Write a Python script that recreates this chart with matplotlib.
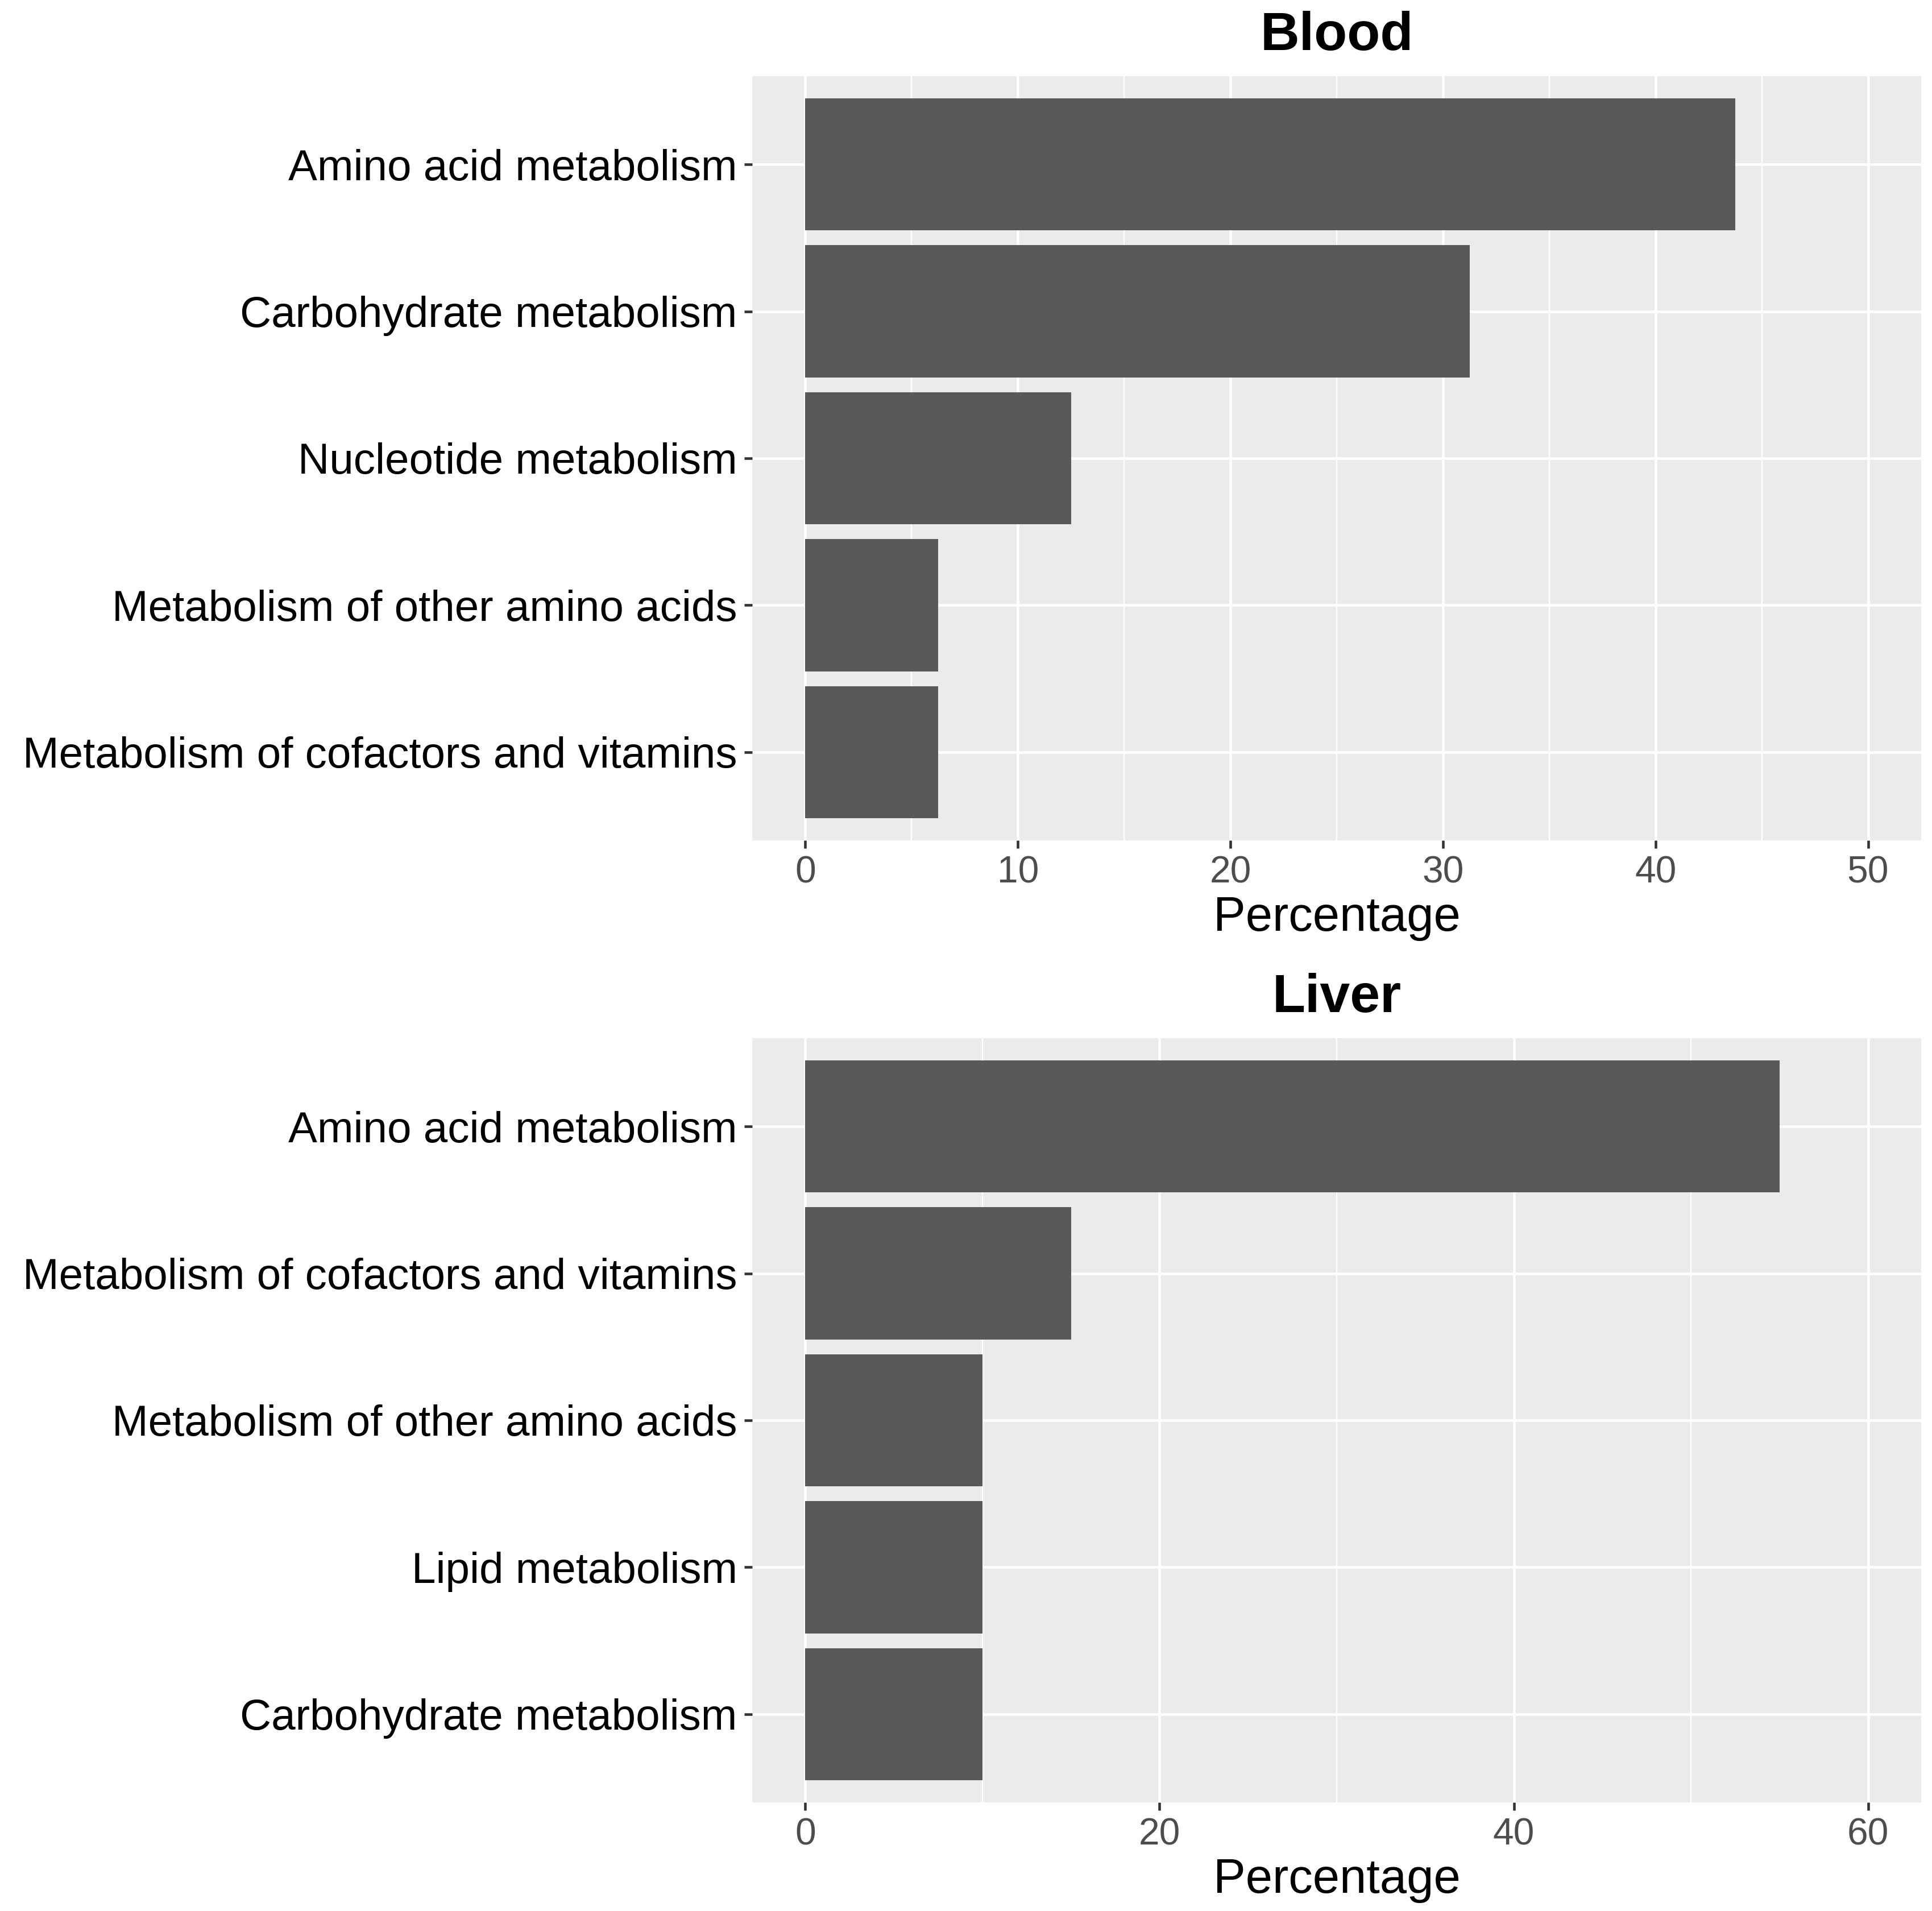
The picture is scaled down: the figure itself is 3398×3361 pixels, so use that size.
import numpy as np
import matplotlib
matplotlib.use("Agg")
import matplotlib.pyplot as plt

plt.rcParams["font.family"] = ["Liberation Sans", "DejaVu Sans"]

# data, top to bottom as shown
blood_labels = [
    "Amino acid metabolism",
    "Carbohydrate metabolism",
    "Nucleotide metabolism",
    "Metabolism of other amino acids",
    "Metabolism of cofactors and vitamins",
]
blood_values = [43.75, 31.25, 12.5, 6.25, 6.25]

liver_labels = [
    "Amino acid metabolism",
    "Metabolism of cofactors and vitamins",
    "Metabolism of other amino acids",
    "Lipid metabolism",
    "Carbohydrate metabolism",
]
liver_values = [55.0, 15.0, 10.0, 10.0, 10.0]

W, H = 3398, 3361
DPI = 300
fig = plt.figure(figsize=(W / DPI, H / DPI), dpi=DPI)


def px_axes(left, top, right, bottom):
    return fig.add_axes([left / W, 1 - bottom / H, (right - left) / W, (bottom - top) / H])


def draw_panel(ax, title, labels, values, xmax, major, minor):
    n = len(labels)
    ypos = np.arange(n, 0, -1)
    ax.set_facecolor("#EBEBEB")
    ax.barh(ypos, values, height=0.9, color="#595959", zorder=3)
    pad = xmax * 0.05
    ax.set_xlim(-pad, xmax + pad)
    ax.set_ylim(0.4, n + 0.6)
    ax.set_xticks(major)
    ax.set_xticks(minor, minor=True)
    ax.set_yticks(ypos)
    ax.set_yticklabels(labels)
    ax.grid(which="major", axis="both", color="white", linewidth=1.1, zorder=1)
    ax.grid(which="minor", axis="x", color="white", linewidth=0.55, zorder=1)
    for s in ax.spines.values():
        s.set_visible(False)
    ax.tick_params(axis="both", which="major", length=3.3, width=1.1, color="#333333")
    ax.tick_params(axis="x", which="minor", length=0)
    ax.tick_params(axis="y", labelsize=18.35, labelcolor="black", pad=3)
    ax.tick_params(axis="x", labelsize=15.8, labelcolor="#4D4D4D", pad=3)
    ax.set_xlabel("Percentage", fontsize=20.4, labelpad=2)
    ax.set_title(title, fontsize=22.8, fontweight="bold", pad=11)


ax1 = px_axes(1323, 134, 3379, 1478)
draw_panel(ax1, "Blood", blood_labels, blood_values, 50,
           [0, 10, 20, 30, 40, 50], [5, 15, 25, 35, 45])

ax2 = px_axes(1323, 1826, 3379, 3170)
draw_panel(ax2, "Liver", liver_labels, liver_values, 60,
           [0, 20, 40, 60], [10, 30, 50])

fig.savefig("out.png", dpi=DPI, facecolor="white")
